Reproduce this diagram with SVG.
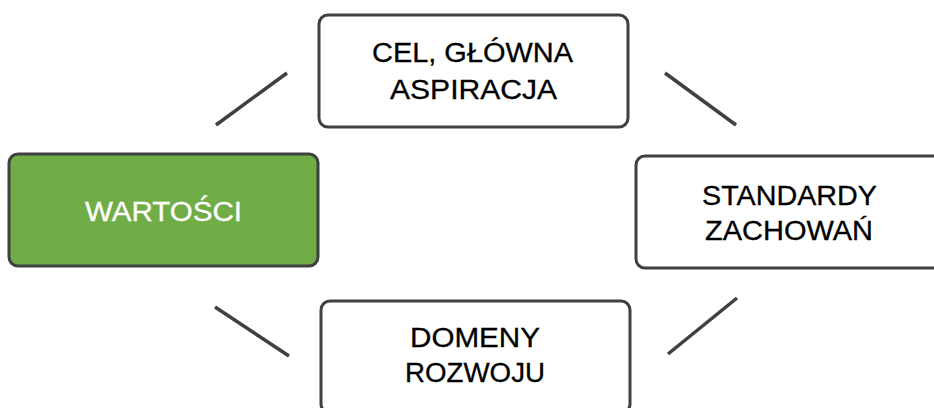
<svg xmlns="http://www.w3.org/2000/svg" width="934" height="408" viewBox="0 0 934 408">
<style>
.box{fill:#ffffff;stroke:#404040;stroke-width:3}
.green{fill:#70AD47}
.t{font-family:"Liberation Sans",Arial,sans-serif;font-size:27px;fill:#000000;stroke:#000000;stroke-width:0.3;text-anchor:middle}
.w{fill:#ffffff;stroke:#ffffff}
.c{stroke:#404040;stroke-width:3.5;stroke-linecap:butt}
</style>
<rect width="934" height="408" fill="#ffffff"/>
<g id="connectors">
<line class="c" x1="216" y1="125" x2="287" y2="73"/>
<line class="c" x1="665" y1="73" x2="736" y2="125"/>
<line class="c" x1="215" y1="307" x2="289" y2="356"/>
<line class="c" x1="668" y1="354" x2="737" y2="298"/>
</g>
<g id="node-wartosci">
<rect class="box green" x="9" y="154" width="309" height="112" rx="9"/>
<text class="t w" x="163.5" y="221" textLength="157" lengthAdjust="spacingAndGlyphs">WARTOŚCI</text>
</g>
<g id="node-cel">
<rect class="box" x="319" y="15" width="309" height="112" rx="9"/>
<text class="t" x="472.5" y="62" textLength="201" lengthAdjust="spacingAndGlyphs">CEL, GŁÓWNA</text>
<text class="t" x="473.5" y="99" textLength="167" lengthAdjust="spacingAndGlyphs">ASPIRACJA</text>
</g>
<g id="node-standardy">
<rect class="box" x="636" y="156" width="309" height="112" rx="9"/>
<text class="t" x="789.5" y="205" textLength="175" lengthAdjust="spacingAndGlyphs">STANDARDY</text>
<text class="t" x="789" y="240" textLength="168" lengthAdjust="spacingAndGlyphs">ZACHOWAŃ</text>
</g>
<g id="node-domeny">
<rect class="box" x="321" y="301" width="309" height="112" rx="9"/>
<text class="t" x="475" y="347" textLength="130" lengthAdjust="spacingAndGlyphs">DOMENY</text>
<text class="t" x="475" y="382" textLength="140" lengthAdjust="spacingAndGlyphs">ROZWOJU</text>
</g>
</svg>
